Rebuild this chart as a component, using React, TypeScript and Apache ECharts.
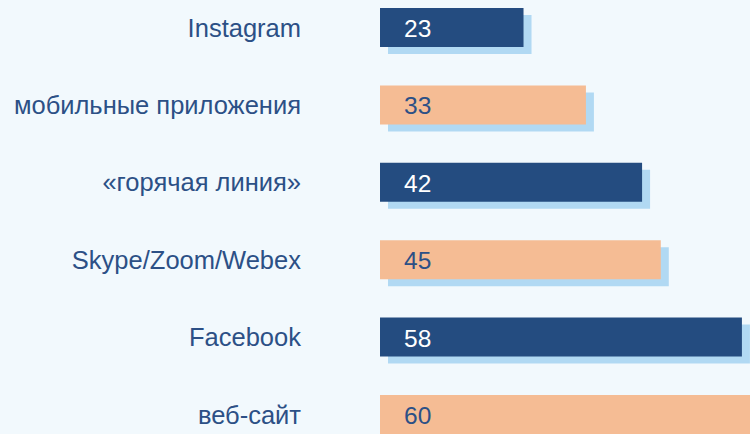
import React, { useEffect, useRef } from "react";
import * as echarts from "echarts";

const categories = [
  "Instagram",
  "мобильные приложения",
  "«горячая линия»",
  "Skype/Zoom/Webex",
  "Facebook",
  "веб-сайт",
];
const values = [23, 33, 42, 45, 58, 60];

const DARK = "#244c80";
const PEACH = "#f5bc94";
const SHADOW = "#b1d9f3";
const TEXT = "#2c5086";
const BG = "#f2f9fd";
const FONT = "'Liberation Sans', Arial, sans-serif";
const barColors = [DARK, PEACH, DARK, PEACH, DARK, PEACH];
const labelColors = ["#ffffff", TEXT, "#ffffff", TEXT, "#ffffff", TEXT];

export default function App() {
  const ref = useRef<HTMLDivElement>(null);
  useEffect(() => {
    if (!ref.current) return;
    const chart = echarts.init(ref.current, undefined, { renderer: "svg" });
    chart.setOption({
      animation: false,
      backgroundColor: BG,
      grid: { left: 380, top: 0.8, width: 374.4, height: 464.4 },
      xAxis: {
        type: "value",
        min: 0,
        max: 60,
        show: false,
      },
      yAxis: {
        type: "category",
        inverse: true,
        data: categories,
        axisLine: { show: false },
        axisTick: { show: false },
        splitLine: { show: false },
        axisLabel: {
          margin: 79,
          fontSize: 25.5,
          color: TEXT,
          fontFamily: FONT,
          padding: [4, 0, 0, 0],
        },
      },
      series: [
        {
          type: "custom",
          encode: { x: 0, y: 1 },
          data: values.map((v, i) => [v, i]),
          renderItem: (params: any, api: any) => {
            const val = api.value(0);
            const idx = api.value(1);
            const start = api.coord([0, idx]);
            const end = api.coord([val, idx]);
            const h = api.size([0, 1])[1] * 0.504;
            const x = start[0];
            const y = start[1] - h / 2;
            const w = end[0] - start[0];
            return {
              type: "group",
              children: [
                {
                  type: "rect",
                  shape: { x: x + 8, y: y + 7, width: w, height: h },
                  style: { fill: SHADOW },
                },
                {
                  type: "rect",
                  shape: { x, y, width: w, height: h },
                  style: { fill: barColors[idx] },
                },
                {
                  type: "text",
                  style: {
                    x: x + 24,
                    y: start[1] + 1,
                    text: String(val),
                    fill: labelColors[idx],
                    fontSize: 24.5,
                    fontFamily: FONT,
                    align: "left",
                    verticalAlign: "middle",
                  },
                },
              ],
            };
          },
        },
      ],
    });
    return () => chart.dispose();
  }, []);
  return (
    <div style={{ position: "fixed", left: 0, top: 0, width: 750, height: 434, overflow: "hidden", background: BG }}>
      <div
        ref={ref}
        style={{ position: "absolute", left: 0, top: -12, width: 760, height: 470 }}
      />
    </div>
  );
}
